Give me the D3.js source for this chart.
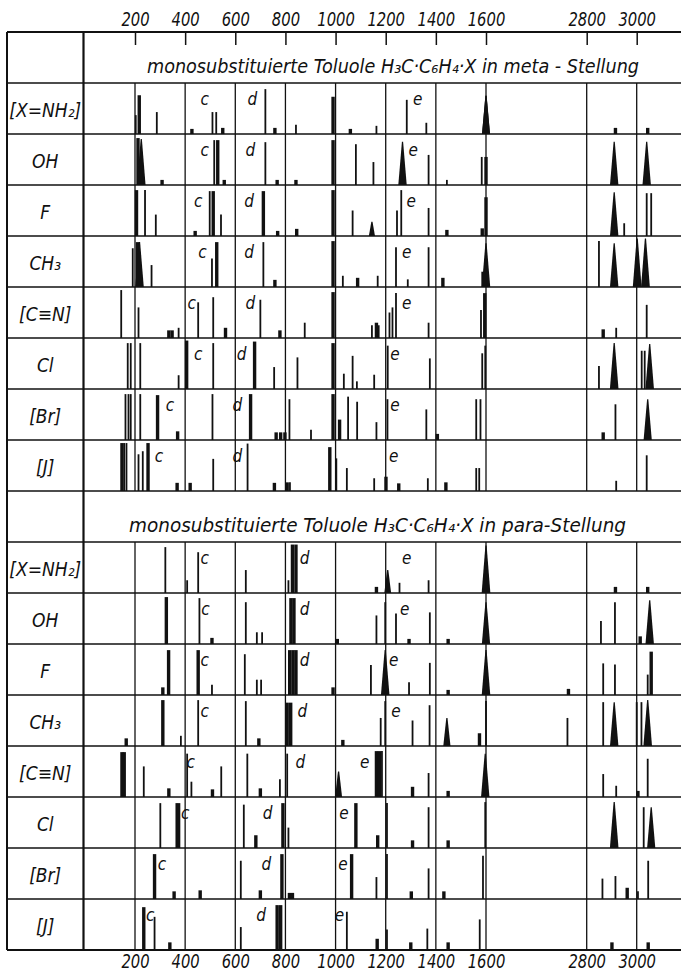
<!DOCTYPE html>
<html>
<head>
<meta charset="utf-8">
<title>monosubstituierte Toluole</title>
<script src="https://cdn.jsdelivr.net/npm/d3@7"></script>
<style>
  body { margin: 0; background: #fff; }
  svg text {
    font-family: "DejaVu Sans Condensed", "Liberation Sans Narrow", "DejaVu Sans", sans-serif;
    font-style: italic;
    fill: #111;
  }
</style>
</head>
<body>
<script>
// wavenumber axis
const tickValues = [200, 400, 600, 800, 1000, 1200, 1400, 1600, 2800, 3000];
const rowNames = ["[X=NH₂]", "OH", "F", "CH₃", "[C≡N]", "Cl", "[Br]", "[J]"];
const titles = [
  "monosubstituierte Toluole H₃C·C₆H₄·X in meta - Stellung",
  "monosubstituierte Toluole H₃C·C₆H₄·X in para-Stellung"
];
const markLetters = ["c", "d", "e"];

// lines: [wavenumber, relative intensity, kind]  kind: 0 sharp, 1 strong, 2 broad band
const metaNH2 = [[203,.37,0],[217,.76,1],[287,.43,0],[427,.1,1],[509,.43,0],[524,.43,0],[550,.12,1],[720,.88,0],[758,.12,1],[842,.18,0],[990,.73,1],[1059,.1,1],[1163,.16,0],[1284,.67,0],[1362,.22,0],[1602,.75,2],[1622,.75,2],[2915,.12,1],[3044,.12,1]];
const metaOH = [[212,.92,1],[225,.9,2],[308,.1,1],[516,.88,0],[530,.88,1],[556,.1,1],[720,.84,0],[767,.1,1],[842,.1,1],[990,.88,1],[1081,.8,0],[1151,.45,0],[1267,.85,2],[1371,.59,0],[1444,.1,0],[1583,.55,0],[1614,.55,1],[2910,.85,2],[3040,.85,2]];
const metaF = [[206,.9,1],[240,.9,0],[283,.42,0],[440,.1,1],[498,.88,0],[512,.88,1],[543,.42,0],[712,.88,1],[769,.1,1],[845,.14,1],[990,.9,1],[1068,.5,0],[1145,.28,2],[1245,.5,0],[1262,.9,0],[1371,.55,0],[1444,.12,1],[1585,.15,1],[1614,.76,1],[2910,.86,2],[2950,.25,0],[3040,.84,0],[3058,.84,0]];
const metaCH3 = [[191,.76,0],[210,.88,1],[218,.88,2],[266,.43,0],[507,.56,0],[526,.88,1],[712,.88,0],[758,.14,1],[990,.9,1],[1029,.22,0],[1088,.18,1],[1168,.22,0],[1241,.78,0],[1288,.15,0],[1371,.78,0],[1428,.18,1],[1585,.3,0],[1606,.86,2],[2849,.9,0],[2910,.86,2],[3002,.95,2],[3035,.95,2]];
const metaCN = [[145,.94,0],[214,.6,0],[335,.15,1],[348,.15,1],[374,.2,0],[452,.7,0],[512,.8,0],[561,.2,1],[700,.75,0],[778,.15,1],[877,.3,0],[990,.9,1],[1145,.25,0],[1163,.3,1],[1172,.25,0],[1215,.5,0],[1227,.6,0],[1241,.88,0],[1371,.3,0],[1580,.55,0],[1595,.88,1],[2866,.17,1],[2918,.2,0],[3040,.65,0]];
const metaCl = [[171,.9,0],[183,.9,0],[221,.9,0],[374,.27,0],[406,.95,1],[512,.9,0],[677,.93,1],[755,.43,0],[848,.62,0],[990,.9,1],[1033,.3,0],[1068,.65,0],[1085,.15,0],[1154,.28,0],[1208,.85,0],[1376,.6,0],[1585,.7,0],[1597,.85,0],[2849,.45,0],[2910,.9,2],[3020,.75,0],[3032,.75,0],[3052,.88,2]];
const metaBr = [[162,.9,0],[174,.9,0],[183,.9,0],[221,.9,0],[290,.88,1],[370,.17,1],[509,.9,0],[661,.9,1],[763,.15,1],[781,.15,1],[798,.15,1],[816,.8,0],[902,.2,0],[990,.9,1],[1016,.4,1],[1050,.85,0],[1086,.75,0],[1163,.35,0],[1207,.8,0],[1362,.6,0],[1406,.12,1],[1561,.8,0],[1578,.8,0],[2866,.15,1],[2915,.7,0],[3044,.8,2]];
const metaJ = [[148,.94,1],[157,.94,0],[166,.94,0],[214,.72,0],[231,.78,0],[252,.94,1],[368,.16,1],[420,.16,1],[512,.63,0],[649,.93,0],[756,.16,1],[807,.17,1],[818,.17,0],[977,.86,1],[1003,.64,0],[1045,.45,0],[1154,.25,0],[1201,.28,1],[1252,.15,1],[1368,.25,0],[1440,.17,1],[1561,.45,0],[1573,.45,0],[2918,.2,0],[3040,.7,0]];

const paraNH2 = [[321,.9,0],[408,.25,0],[452,.8,0],[642,.45,0],[812,.25,0],[828,.95,1],[842,.95,1],[1163,.12,1],[1208,.45,2],[1255,.2,0],[1371,.25,0],[1610,.93,2],[2915,.12,1],[3044,.12,1]];
const paraOH = [[325,.92,1],[457,.9,0],[507,.12,1],[642,.82,0],[686,.23,0],[707,.23,0],[822,.9,1],[834,.9,1],[1007,.1,1],[1163,.56,0],[1198,.82,0],[1241,.6,0],[1293,.1,1],[1376,.62,0],[1449,.1,1],[1606,.82,2],[2857,.45,0],[2913,.82,0],[3014,.15,1],[3052,.86,2]];
const paraF = [[311,.15,1],[334,.88,1],[452,.88,1],[507,.2,0],[638,.8,0],[686,.3,0],[703,.3,0],[817,.88,1],[830,.88,1],[842,.88,1],[990,.15,1],[1141,.59,0],[1198,.88,2],[1293,.25,0],[1376,.63,0],[1449,.1,1],[1602,.88,2],[2727,.12,1],[2866,.62,0],[2913,.6,0],[3044,.4,0],[3058,.85,1]];
const paraCH3 = [[165,.15,1],[311,.9,1],[383,.2,0],[452,.9,0],[642,.88,0],[694,.15,1],[807,.85,1],[821,.85,1],[1029,.12,1],[1180,.55,0],[1198,.88,0],[1307,.5,0],[1375,.8,0],[1444,.55,2],[1574,.25,1],[1610,.88,0],[2723,.55,0],[2866,.86,0],[2910,.86,2],[3000,.86,0],[3019,.86,0],[3044,.9,2]];
const paraCN = [[148,.88,1],[157,.88,1],[235,.6,0],[335,.17,1],[408,.85,0],[425,.3,0],[509,.15,1],[544,.6,0],[648,.85,0],[700,.17,1],[778,.35,0],[807,.85,0],[1012,.5,2],[1163,.9,1],[1175,.9,1],[1185,.9,0],[1307,.2,1],[1371,.47,0],[1449,.12,1],[1597,.85,2],[2866,.45,0],[2918,.22,0],[3005,.12,1],[3044,.75,0]];
const paraCl = [[301,.88,0],[365,.88,0],[374,.88,1],[634,.85,0],[682,.25,1],[790,.88,1],[812,.4,0],[1081,.88,1],[1168,.25,1],[1205,.88,0],[1307,.15,1],[1371,.8,0],[1449,.15,1],[1597,.9,0],[2910,.9,2],[3028,.8,0],[3058,.8,2]];
const paraBr = [[278,.88,1],[356,.15,1],[460,.17,1],[622,.75,0],[700,.17,1],[786,.88,1],[816,.12,1],[828,.12,1],[1064,.88,1],[1163,.43,0],[1205,.88,0],[1302,.15,1],[1371,.6,0],[1432,.15,1],[1588,.85,0],[2863,.4,0],[2915,.45,0],[2962,.22,1],[3005,.15,0],[3046,.75,0]];
const paraJ = [[235,.84,1],[278,.65,0],[339,.15,1],[622,.45,0],[767,.88,1],[781,.88,1],[1045,.75,0],[1166,.22,1],[1205,.4,0],[1300,.15,1],[1366,.42,0],[1449,.15,1],[1575,.6,0],[2901,.15,1],[3046,.15,1]];

// position (wavenumber) of the letters c, d, e in each row
const metaMarks = [[478,668,1328],[478,660,1310],[452,655,1302],[469,655,1284],[426,660,1284],[452,625,1237],[339,608,1237],[296,608,1232]];
const paraMarks = [[478,877,1284],[481,877,1276],[478,877,1232],[478,868,1241],[422,860,1116],[400,729,1033],[308,724,1029],[261,703,1016]];

const width = 681, height = 977;
const frameTop = 32, frameBottom = 950, frameLeft = 7, divX = 83.5;
const ink = "#111";

const svg = d3.select("body").append("svg")
  .attr("width", width)
  .attr("height", height);

// broken axis: 1600 .. 2400 is cut out
const x = d3.scaleLinear()
  .domain([200, 1600, 2400, 3000])
  .range([135, 486, 486.7, 636.7]);

const y = d3.scaleBand()
  .domain(d3.range(18))
  .range([frameTop, frameBottom]);
const rowH = y.bandwidth();

const sections = [
  { title: titles[0], rows: [metaNH2, metaOH, metaF, metaCH3, metaCN, metaCl, metaBr, metaJ], marks: metaMarks, head: 0, tx: 147, tl: 492 },
  { title: titles[1], rows: [paraNH2, paraOH, paraF, paraCH3, paraCN, paraCl, paraBr, paraJ], marks: paraMarks, head: 9, tx: 129, tl: 497 }
];

// frame
const frame = svg.append("g").attr("stroke", ink).attr("fill", "none");
d3.range(19).forEach(i => {
  const yy = i < 18 ? y(i) : frameBottom;
  frame.append("line")
    .attr("x1", frameLeft).attr("x2", width)
    .attr("y1", yy).attr("y2", yy)
    .attr("stroke-width", i === 0 || i === 18 ? 2 : 1.7);
});
frame.append("line")
  .attr("x1", frameLeft).attr("x2", frameLeft)
  .attr("y1", frameTop).attr("y2", frameBottom)
  .attr("stroke-width", 2);
frame.append("line")
  .attr("x1", divX).attr("x2", divX)
  .attr("y1", frameTop).attr("y2", frameBottom)
  .attr("stroke-width", 2.2);

// axes
const topAxis = svg.append("g")
  .attr("transform", `translate(0,${frameTop})`)
  .call(d3.axisTop(x).tickValues(tickValues).tickSize(-13).tickPadding(6).tickFormat(d3.format("d")));
const bottomAxis = svg.append("g")
  .attr("transform", `translate(0,${frameBottom})`)
  .call(d3.axisBottom(x).tickValues(tickValues).tickSize(0).tickPadding(4).tickFormat(d3.format("d")));
[topAxis, bottomAxis].forEach(ax => {
  ax.select(".domain").remove();
  ax.selectAll(".tick line").attr("stroke", ink).attr("stroke-width", 1.5);
  ax.selectAll(".tick text")
    .attr("fill", ink)
    .style("font-size", "19px")
    .attr("textLength", d => String(d).length * 9.4)
    .attr("lengthAdjust", "spacingAndGlyphs");
});

sections.forEach(sec => {
  svg.append("text")
    .attr("x", sec.tx)
    .attr("y", y(sec.head) + 41)
    .attr("textLength", sec.tl)
    .attr("lengthAdjust", "spacingAndGlyphs")
    .style("font-size", "20px")
    .text(sec.title);

  sec.rows.forEach((lines, r) => {
    const row = sec.head + 1 + r;
    const top = y(row), base = top + rowH;
    const g = svg.append("g");

    // grid lines
    g.selectAll(".grid")
      .data(tickValues)
      .enter().append("line")
        .attr("x1", d => x(d)).attr("x2", d => x(d))
        .attr("y1", top).attr("y2", base)
        .attr("stroke", ink).attr("stroke-width", 1.3);

    // sharp and strong lines
    g.selectAll(".line")
      .data(lines.filter(d => d[2] !== 2))
      .enter().append("line")
        .attr("x1", d => x(d[0])).attr("x2", d => x(d[0]))
        .attr("y1", base).attr("y2", d => base - d[1] * rowH)
        .attr("stroke", ink)
        .attr("stroke-width", d => d[2] === 1 ? 3.4 : 1.8);

    // broad bands
    g.selectAll(".band")
      .data(lines.filter(d => d[2] === 2))
      .enter().append("path")
        .attr("d", d => {
          const cx = x(d[0]), hw = 2.5 + 2 * d[1];
          return `M${cx - hw},${base} L${cx - 0.6},${base - d[1] * rowH} L${cx + 0.6},${base - d[1] * rowH} L${cx + hw},${base} Z`;
        })
        .attr("fill", ink);

    // letters c, d, e
    g.selectAll(".mark")
      .data(sec.marks[r])
      .enter().append("text")
        .attr("x", d => x(d))
        .attr("y", top + 22)
        .attr("text-anchor", "middle")
        .style("font-size", "17px")
        .text((d, i) => markLetters[i]);

    // row label
    const lbl = svg.append("text")
      .attr("x", (frameLeft + divX) / 2)
      .attr("y", top + rowH / 2 + 8)
      .attr("text-anchor", "middle")
      .style("font-size", "19px")
      .text(rowNames[r]);
    if (r === 0) lbl.attr("textLength", 72).attr("lengthAdjust", "spacingAndGlyphs");
  });
});
</script>
</body>
</html>
